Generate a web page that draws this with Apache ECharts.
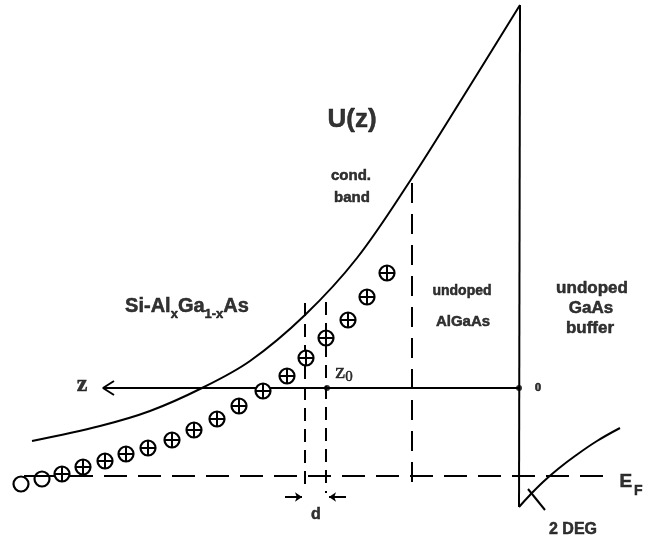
<!DOCTYPE html>
<html><head><meta charset="utf-8">
<script src="https://cdn.jsdelivr.net/npm/echarts@6/dist/echarts.min.js"></script>
<style>html,body{margin:0;padding:0;background:#fff}#c{width:657px;height:540px}</style>
</head><body><div id="c"></div><script>
// ---- diagram data (z position, energy U; screen-like scale, U grows downward) ----
const bandZ = [32, 100, 150, 202, 250, 305, 357, 410, 463, 520];
const bandU = [441, 426, 411, 388, 361, 315, 258, 181, 97, 5];
const barrierZ = [520, 519];
const barrierU = [5, 507];
const degZ = [519, 530, 543, 558, 575, 597, 620];
const degU = [507, 495, 482, 469, 456, 441, 428];
const degTickZ = [528, 545];
const degTickU = [489, 510];
const ionZ = [62, 83, 105, 126, 148, 172, 194, 217, 239, 263, 287, 306, 326, 348, 367, 387];
const ionU = [474, 467, 461, 454, 448, 440, 430, 419, 406, 391, 376, 358, 338, 320, 297, 273];
const neutralZ = [21, 42];
const neutralU = [484, 479];
const fermiLevel = 476;
const fermiZ = [70, 612];
const neutralLinkZ = [24, 62];
const zAxisLevel = 388;
const zAxisZ = [103, 519];
const zArrowZ = [114, 103, 114];
const zArrowU = [381, 388, 395];
const markZ = [327, 519];          // z0 and origin dots
const spacerLeftZ = 305, spacerLeftU = [303, 492];
const spacerRightZ = 326, spacerRightU = [302, 493];
const undopedEdgeZ = 412, undopedEdgeU = [183, 488];
const dArrowU = 497;
const dArrowLeft = [285, 302];
const dArrowRight = [346, 329];

const pairs = (xs, ys) => xs.map((x, i) => [x, ys[i]]);
const K = '#000';
const sans = 'Liberation Sans, Arial, sans-serif';
const serif = 'Liberation Serif, DejaVu Serif, serif';
const ink = { color: K, textBorderColor: K, textBorderWidth: 0.5 };

function lineSeries(data, extra) {
  return Object.assign({
    type: 'line', data: data, symbol: 'none', silent: true, animation: false,
    lineStyle: { color: K, width: 2 }, z: 2
  }, extra || {});
}
function dashed(data, dash) {
  return lineSeries(data, { lineStyle: { color: K, width: 2, type: dash } });
}

const labels = [
  { v: [352, 120], t: 'U(z)', s: { fontSize: 26, fontWeight: 'bold', fontFamily: sans } },
  { v: [351, 176], t: 'cond.', s: { fontSize: 15, fontWeight: 'bold', fontFamily: sans } },
  { v: [352, 198], t: 'band', s: { fontSize: 15, fontWeight: 'bold', fontFamily: sans } },
  { v: [187, 307], t: '{a|Si-Al}{s|x}{a|Ga}{s|1-x}{a|As}', s: { fontFamily: sans,
      rich: { a: Object.assign({ fontSize: 20, fontWeight: 'bold', fontFamily: sans, lineHeight: 22, verticalAlign: 'top' }, ink),
              s: Object.assign({ fontSize: 13, fontWeight: 'bold', fontFamily: sans, lineHeight: 13, padding: [12, 0, 0, 0], verticalAlign: 'top' }, ink) } } },
  { v: [462, 291], t: 'undoped', s: { fontSize: 14, fontWeight: 'bold', fontFamily: sans } },
  { v: [463, 322], t: 'AlGaAs', s: { fontSize: 15, fontWeight: 'bold', fontFamily: sans } },
  { v: [592, 288], t: 'undoped', s: { fontSize: 17, fontWeight: 'bold', fontFamily: sans } },
  { v: [591, 308], t: 'GaAs', s: { fontSize: 17, fontWeight: 'bold', fontFamily: sans } },
  { v: [590, 328], t: 'buffer', s: { fontSize: 17, fontWeight: 'bold', fontFamily: sans } },
  { v: [82, 385], t: 'z', s: { fontSize: 24, fontWeight: 'bold', fontFamily: serif } },
  { v: [344, 372], t: '{a|z}{s|0}', s: { rich: {
      a: Object.assign({ fontSize: 22, fontFamily: serif, lineHeight: 22, verticalAlign: 'top' }, ink),
      s: Object.assign({ fontSize: 15, fontFamily: serif, lineHeight: 15, padding: [9, 0, 0, 0], verticalAlign: 'top' }, ink) } } },
  { v: [538, 388], t: '0', s: { fontSize: 13, fontWeight: 'bold', fontFamily: serif } },
  { v: [631, 482], t: '{a|E}{s|F}', s: { rich: {
      a: Object.assign({ fontSize: 19, fontWeight: 'bold', fontFamily: sans, lineHeight: 20, verticalAlign: 'top' }, ink),
      s: Object.assign({ fontSize: 14, fontWeight: 'bold', fontFamily: sans, lineHeight: 14, padding: [12, 0, 0, 2], verticalAlign: 'top' }, ink) } } },
  { v: [316, 515], t: 'd', s: { fontSize: 16, fontWeight: 'bold', fontFamily: sans } },
  { v: [573, 530], t: '2 DEG', s: { fontSize: 16, fontWeight: 'bold', fontFamily: sans } }
];

const chart = echarts.init(document.getElementById('c'), null, { renderer: 'canvas' });
chart.setOption({
  backgroundColor: '#fff',
  animation: false,
  grid: { left: 0, right: 0, top: 0, bottom: 0 },
  xAxis: { type: 'value', min: 0, max: 657, show: false },
  yAxis: { type: 'value', min: 0, max: 540, inverse: true, show: false },
  series: [
    lineSeries(pairs(bandZ, bandU), { smooth: 0.35 }),
    lineSeries(pairs(barrierZ, barrierU)),
    lineSeries(pairs(degZ, degU), { smooth: 0.4 }),
    lineSeries(pairs(degTickZ, degTickU)),
    lineSeries([[zAxisZ[0], zAxisLevel], [zAxisZ[1], zAxisLevel]]),
    lineSeries(pairs(zArrowZ, zArrowU)),
    lineSeries([[neutralLinkZ[0], fermiLevel], [neutralLinkZ[1], fermiLevel]]),
    dashed([[fermiZ[0], fermiLevel], [fermiZ[1], fermiLevel]], [23, 11]),
    dashed([[spacerLeftZ, spacerLeftU[0]], [spacerLeftZ, spacerLeftU[1]]], [13, 8]),
    dashed([[spacerRightZ, spacerRightU[0]], [spacerRightZ, spacerRightU[1]]], [13, 8]),
    dashed([[undopedEdgeZ, undopedEdgeU[0]], [undopedEdgeZ, undopedEdgeU[1]]], [20, 11]),
    {
      type: 'lines', coordinateSystem: 'cartesian2d', silent: true, animation: false,
      symbol: ['none', 'arrow'], symbolSize: 7,
      lineStyle: { color: K, width: 2, opacity: 1 },
      data: [
        { coords: [[dArrowLeft[0], dArrowU], [dArrowLeft[1], dArrowU]] },
        { coords: [[dArrowRight[0], dArrowU], [dArrowRight[1], dArrowU]] }
      ]
    },
    {
      type: 'scatter', data: markZ.map(z => [z, zAxisLevel]), symbol: 'circle', symbolSize: 6,
      itemStyle: { color: K }, silent: true, animation: false, z: 3
    },
    {
      type: 'custom', silent: true, animation: false, z: 4,
      data: pairs(neutralZ, neutralU),
      renderItem: function (params, api) {
        const p = api.coord([api.value(0), api.value(1)]);
        return { type: 'circle', shape: { cx: p[0], cy: p[1], r: 7.5 },
          style: { fill: 'rgba(255,255,255,0)', stroke: K, lineWidth: 2.2 } };
      }
    },
    {
      type: 'custom', silent: true, animation: false, z: 5,
      data: pairs(ionZ, ionU),
      renderItem: function (params, api) {
        const p = api.coord([api.value(0), api.value(1)]);
        const r = 7.5;
        return { type: 'group', children: [
          { type: 'circle', shape: { cx: p[0], cy: p[1], r: r }, style: { fill: '#fff', stroke: K, lineWidth: 2.2 } },
          { type: 'line', shape: { x1: p[0] - r, y1: p[1], x2: p[0] + r, y2: p[1] }, style: { stroke: K, lineWidth: 2 } },
          { type: 'line', shape: { x1: p[0], y1: p[1] - r, x2: p[0], y2: p[1] + r }, style: { stroke: K, lineWidth: 2 } }
        ] };
      }
    },
    {
      type: 'scatter', silent: true, animation: false, z: 6, symbolSize: 0,
      data: labels.map(l => ({ value: l.v, label: Object.assign({ show: true, position: 'inside', formatter: l.t, align: 'center', verticalAlign: 'middle' }, ink, l.s) }))
    }
  ]
});
</script></body></html>
